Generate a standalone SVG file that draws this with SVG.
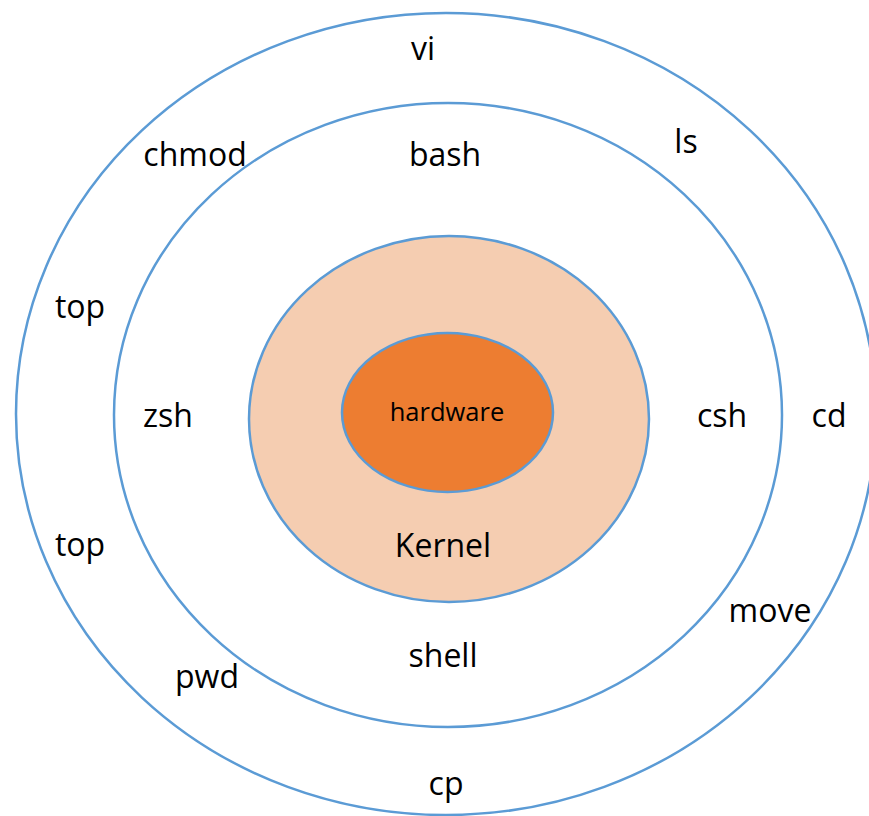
<svg xmlns="http://www.w3.org/2000/svg" width="869" height="816" viewBox="0 0 869 816">
<style>
.ring{stroke:#5B9BD5;stroke-width:2.5;}
.t{font-family:"Open Sans","Noto Sans",sans-serif;font-size:32px;fill:#000;text-anchor:middle;}
.s{font-size:25.5px;}
</style>
<rect width="869" height="816" fill="#fff"/>
<g id="commands">
<ellipse class="ring" cx="446" cy="414" rx="430" ry="401" fill="#fff"/>
<text class="t" x="423" y="60">vi</text>
<text class="t" x="195" y="166">chmod</text>
<text class="t" x="686" y="153">ls</text>
<text class="t" x="80" y="318">top</text>
<text class="t" x="829" y="427">cd</text>
<text class="t" x="80" y="556">top</text>
<text class="t" x="770" y="622">move</text>
<text class="t" x="207" y="688">pwd</text>
<text class="t" x="446" y="795">cp</text>
</g>
<g id="shell">
<ellipse class="ring" cx="448" cy="415" rx="334" ry="312" fill="#fff"/>
<text class="t" x="445" y="166">bash</text>
<text class="t" x="168" y="427">zsh</text>
<text class="t" x="722" y="427">csh</text>
<text class="t" x="443" y="667">shell</text>
</g>
<g id="kernel">
<ellipse class="ring" cx="449" cy="419" rx="200" ry="183" fill="#F5CDB1"/>
<text class="t" x="443" y="557">Kernel</text>
</g>
<g id="hardware">
<ellipse class="ring" cx="447.5" cy="412.5" rx="105.5" ry="79.5" fill="#ED7D31"/>
<text class="t s" x="447" y="421">hardware</text>
</g>
</svg>
